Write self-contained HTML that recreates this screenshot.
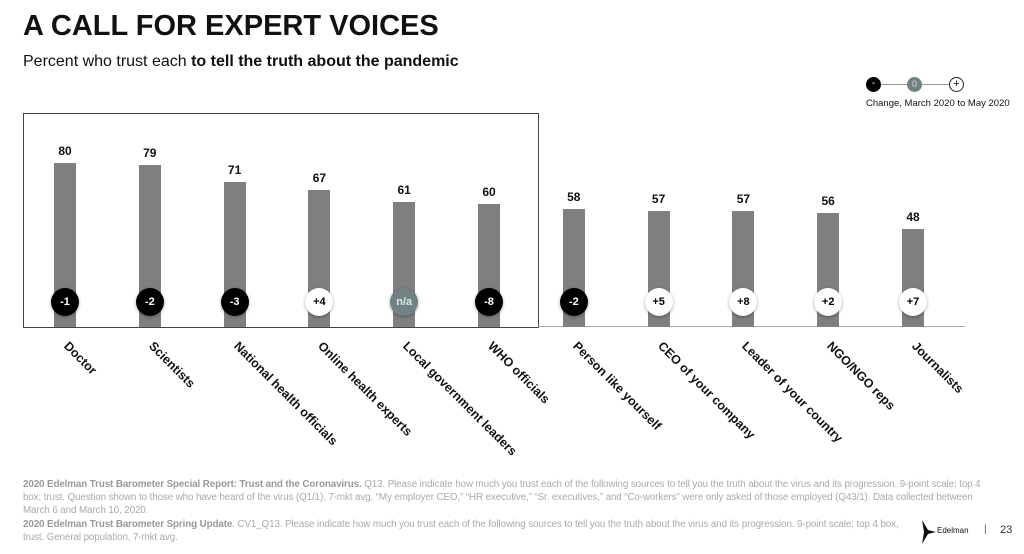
<!DOCTYPE html>
<html><head><style>
body{margin:0;width:1024px;height:554px;background:#fff;font-family:"Liberation Sans",Arial,sans-serif;position:relative;overflow:hidden}
.a{position:absolute}
.bar{position:absolute;width:22px;background:#7f7f7f}
.v{position:absolute;width:40px;text-align:center;font-weight:bold;font-size:12px;color:#111}
.c{position:absolute;width:28px;height:28px;border-radius:50%;text-align:center;line-height:28px;font-weight:bold;font-size:11px;box-shadow:0 1px 3px rgba(0,0,0,.35)}
.k{background:#000;color:#fff}.w{background:#fff;color:#000}.g{background:#6f8384;color:#e0e6e6}
.l{position:absolute;transform-origin:0 0;transform:rotate(45deg);font-weight:bold;font-size:12.5px;white-space:nowrap;color:#111}
.f{position:absolute;left:23px;font-size:9.8px;color:#aaa;line-height:13px;width:975px;letter-spacing:-0.1px}
.f b{color:#999}
</style></head><body>
<div class="a" style="left:23px;top:10px;font-size:29px;font-weight:bold;color:#111">A CALL FOR EXPERT VOICES</div>
<div class="a" style="left:23px;top:53px;font-size:16px;color:#111">Percent who trust each <b>to tell the truth about the pandemic</b></div>
<div class="a" style="left:880px;top:84px;width:80px;height:1px;background:#999"></div>
<div class="a" style="left:866px;top:77px;width:15px;height:15px;border-radius:50%;background:#000;color:#fff;font-size:10px;text-align:center;line-height:14px">-</div>
<div class="a" style="left:907px;top:77px;width:15px;height:15px;border-radius:50%;background:#6f8384;color:#dde;font-size:9px;text-align:center;line-height:15px">0</div>
<div class="a" style="left:949px;top:77px;width:13px;height:13px;border-radius:50%;border:1px solid #222;background:#fff;font-size:11px;text-align:center;line-height:13px">+</div>
<div class="a" style="left:866px;top:98px;font-size:9.5px;color:#111">Change, March 2020 to May 2020</div>
<div class="a" style="left:23px;top:113px;width:514px;height:213px;border:1px solid #444"></div>
<div class="a" style="left:538px;top:326px;width:427px;height:1px;background:#aaa"></div>
<div id="ch"></div>
<div class="f" style="top:478px"><b>2020 Edelman Trust Barometer Special Report: Trust and the Coronavirus.</b> Q13. Please indicate how much you trust each of the following sources to tell you the truth about the virus and its progression. 9-point scale; top 4 box; trust. Question shown to those who have heard of the virus (Q1/1). 7-mkt avg. “My employer CEO,” “HR executive,” “Sr. executives,” and “Co-workers” were only asked of those employed (Q43/1). Data collected between March 6 and March 10, 2020.</div>
<div class="f" style="top:518px;width:880px"><b>2020 Edelman Trust Barometer Spring Update</b>. CV1_Q13. Please indicate how much you trust each of the following sources to tell you the truth about the virus and its progression. 9-point scale; top 4 box, trust. General population, 7-mkt avg.</div>
<svg class="a" style="left:914px;top:520px" width="22" height="24"><polygon points="8,0 14,10 22,12 14,14 8,24 10,12" fill="#111"/></svg>
<div class="a" style="left:937px;top:526px;font-size:8px;color:#111">Edelman</div>
<div class="a" style="left:984px;top:524px;font-size:10px;color:#555">|</div>
<div class="a" style="left:1000px;top:524px;font-size:11px;color:#333">23</div>
<script>
var d=[["Doctor",80,"-1","k"],["Scientists",79,"-2","k"],["National health officials",71,"-3","k"],["Online health experts",67,"+4","w"],["Local government leaders",61,"n/a","g"],["WHO officials",60,"-8","k"],["Person like yourself",58,"-2","k"],["CEO of your company",57,"+5","w"],["Leader of your country",57,"+8","w"],["NGO/NGO reps",56,"+2","w"],["Journalists",48,"+7","w"]];
var h="";d.forEach(function(r,i){var x=65+i*84.8,t=328-r[1]*2.06;
h+='<div class="bar" style="left:'+(x-11)+'px;top:'+t+'px;height:'+(327-t)+'px"></div>';
h+='<div class="v" style="left:'+(x-20)+'px;top:'+(t-19)+'px">'+r[1]+'</div>';
h+='<div class="c '+r[3]+'" style="left:'+(x-14)+'px;top:288px">'+r[2]+'</div>';
h+='<div class="l" style="left:'+(x+6)+'px;top:339px">'+r[0]+'</div>';});
document.getElementById("ch").innerHTML=h;
</script>
</body></html>
